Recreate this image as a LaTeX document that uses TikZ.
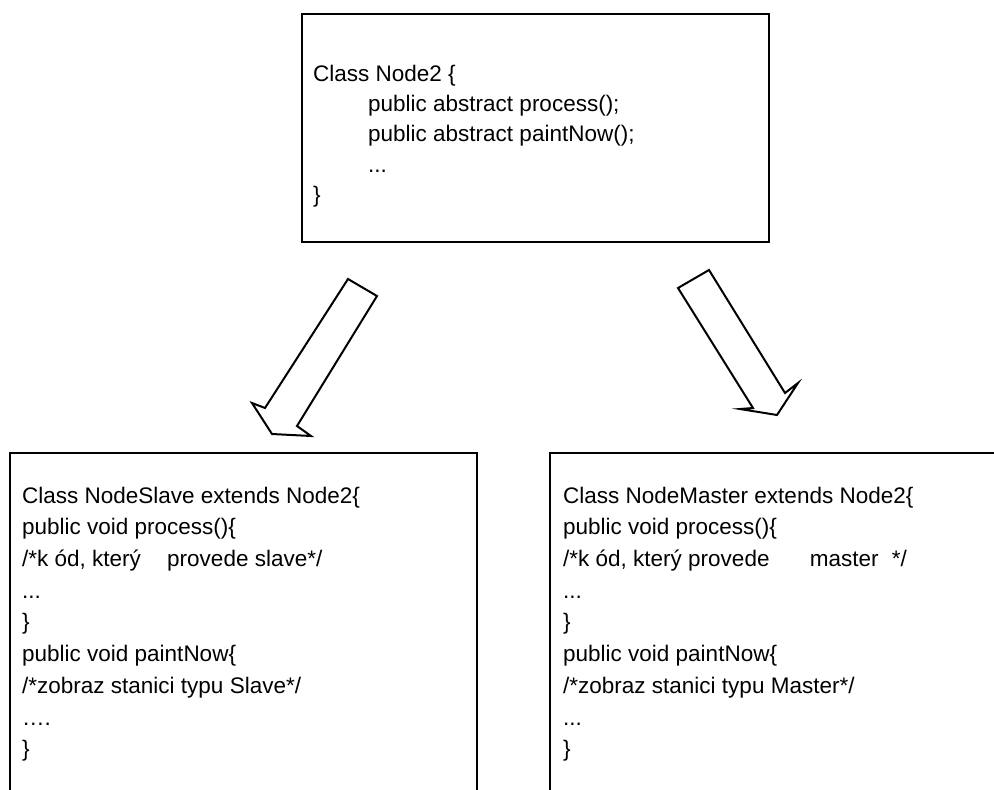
\documentclass[tikz,border=0pt]{standalone}
\usepackage{fontspec}
\setmainfont{Liberation Sans}
\newcommand{\codesize}{\fontsize{22.5}{31.7}\selectfont}
\newcommand{\headsize}{\fontsize{22.5}{30.4}\selectfont}
\tikzset{
  cls box/.style={draw=black, line width=2pt},
  cls arrow/.style={draw=black, line width=2pt, fill=white, line join=miter},
  cls text/.style={anchor=north west, inner sep=0pt, align=left, font=\codesize},
}

\begin{document}
\begin{tikzpicture}[x=1pt,y=-1pt]
  \useasboundingbox (0,0) rectangle (994,790);
  \clip (0,0) rectangle (994,790);
  % abstract base class
  \draw[cls box] (302,14) rectangle (769,242);
  \node[cls text, font=\headsize] (base) at (313,59.7) {\strut Class Node2 \{\\
    \hspace*{55pt}public abstract process();\\
    \hspace*{55pt}public abstract paintNow();\\
    \hspace*{55pt}...\\
    \}};
  % the two subclasses, bottom edges run off the page
  \draw[cls box] (10,800) -- (10,453) -- (477,453) -- (477,800);
  \draw[cls box] (550,800) -- (550,453) -- (1004,453) -- (1004,800);
  \node[cls text] (slave) at (22,480.8) {\strut Class NodeSlave extends Node2\{\\
    public void process()\{\\
    /*k ód, který\hspace{20pt} provede slave*/\\
    ...\\
    \}\\
    public void paintNow\{\\
    /*zobraz stanici typu Slave*/\\
    ….\\
    \}};
  \node[cls text] (master) at (563,480.8) {\strut Class NodeMaster extends Node2\{\\
    public void process()\{\\
    /*k ód, který provede\hspace{34pt} master\hspace{7pt} */\\
    ...\\
    \}\\
    public void paintNow\{\\
    /*zobraz stanici typu Master*/\\
    ...\\
    \}};
  % inheritance arrows
  \draw[cls arrow] (348,279) -- (377,296) -- (297,426) -- (311,436) -- (272,434) -- (252,403) -- (265,408) -- cycle;
  \draw[cls arrow] (678,288) -- (709,270) -- (785,393) -- (798,383) -- (777,415) -- (740,409) -- (753,408) -- cycle;
\end{tikzpicture}
\end{document}
